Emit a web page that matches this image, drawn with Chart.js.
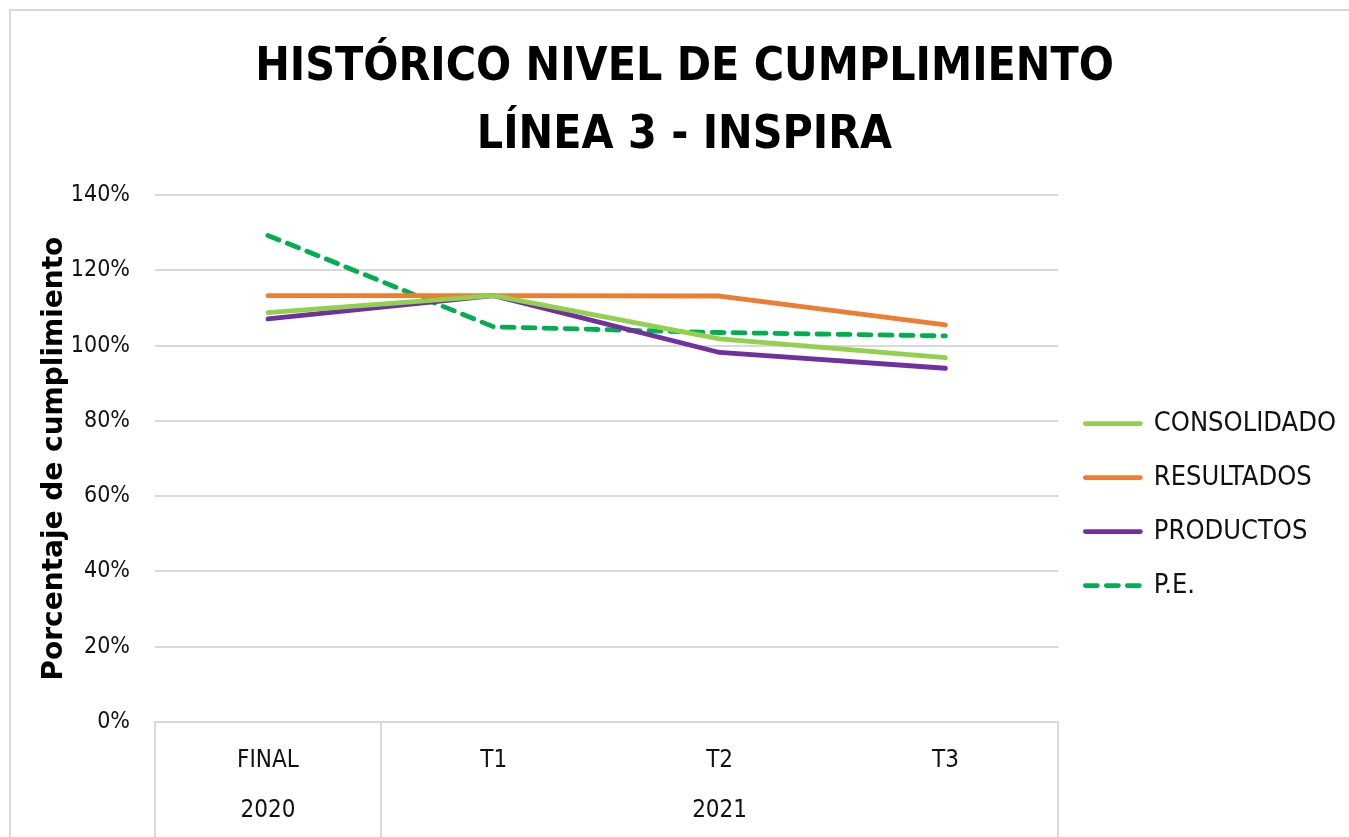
<!DOCTYPE html>
<html>
<head>
<meta charset="utf-8">
<script src="https://cdn.jsdelivr.net/npm/chart.js@4/dist/chart.umd.min.js"></script>
<style>
  html, body { margin: 0; padding: 0; background: #fff; overflow: hidden; }
  #frame { position: absolute; left: 9px; top: 9px; width: 1400px; height: 900px; border: 2px solid #d9d9d9; }
  #wrap { position: absolute; left: 0; top: 0; width: 1349px; height: 837px; }
</style>
</head>
<body>
<div id="frame"></div>
<div id="wrap"><canvas id="chart"></canvas></div>
<script>
// periodos (nivel 1) y años (nivel 2)
var periods = ["FINAL", "T1", "T2", "T3"];
var years = ["2020", "", "2021", ""];

var consolidado = [1.088, 1.133, 1.018, 0.968];
var resultados  = [1.133, 1.133, 1.132, 1.055];
var productos   = [1.071, 1.133, 0.982, 0.940];
var pe          = [1.293, 1.050, 1.035, 1.026];

var yTicks = [0, 0.2, 0.4, 0.6, 0.8, 1.0, 1.2, 1.4];

var labelFont = "'DejaVu Sans Condensed', 'Liberation Sans Narrow', 'DejaVu Sans', sans-serif";

function series(label, data, color, dashed) {
    return {
        label: label,
        data: data,
        borderColor: color,
        backgroundColor: color,
        borderWidth: 4.8,
        borderDash: dashed ? [12, 9] : [],
        borderCapStyle: 'round',
        borderJoinStyle: 'round',
        pointRadius: 0,
        pointHoverRadius: 0,
        tension: 0,
        fill: false
    };
}

var data = {
    labels: periods.map(function(p, i) { return [p, years[i]]; }),
    datasets: [
        series("CONSOLIDADO", consolidado, "#92d050", false),
        series("RESULTADOS", resultados, "#ed7d31", false),
        series("PRODUCTOS", productos, "#7030a0", false),
        series("P.E.", pe, "#00b050", true)
    ]
};

var options = {
    responsive: false,
    animation: false,
    layout: { padding: { left: 23, right: 3, top: 0, bottom: 0 } },
    plugins: {
        title: {
            display: true,
            text: ["HISTÓRICO NIVEL DE CUMPLIMIENTO", "LÍNEA 3 - INSPIRA"],
            color: "#000",
            font: { family: "'DejaVu Sans Condensed', 'DejaVu Sans', sans-serif", size: 46, weight: "bold condensed", lineHeight: 1.48 },
            padding: { top: 34, bottom: 25 }
        },
        legend: {
            position: "right",
            align: "center",
            title: { display: true, text: " ", padding: { top: 171, bottom: 0 }, font: { size: 1 } },
            labels: {
                usePointStyle: true,
                pointStyle: "line",
                pointStyleWidth: 55,
                boxHeight: 28,
                padding: 27,
                color: "#111",
                font: { family: labelFont, size: 27, weight: "condensed" },
                generateLabels: function(chart) {
                    return chart.data.datasets.map(function(ds, i) {
                        return {
                            text: ds.label,
                            datasetIndex: i,
                            fillStyle: ds.borderColor,
                            strokeStyle: ds.borderColor,
                            fontColor: "#111",
                            lineWidth: 4.8,
                            lineDash: ds.borderDash,
                            lineCap: "round",
                            pointStyle: "line",
                            hidden: false
                        };
                    });
                }
            }
        },
        tooltip: { enabled: false }
    },
    scales: {
        x: {
            offset: true,
            border: { display: true, color: "#d9d9d9", width: 2 },
            grid: {
                offset: true,
                drawOnChartArea: false,
                drawTicks: true,
                tickLength: 115,
                lineWidth: 2,
                // only year-group edges get a separator
                color: function(ctx) {
                    return (ctx.index === 2 || ctx.index === 3) ? "rgba(0,0,0,0)" : "#d9d9d9";
                }
            },
            ticks: {
                color: "#111",
                padding: -101,
                maxRotation: 0,
                autoSkip: false,
                font: { family: labelFont, size: 24, weight: "condensed", lineHeight: 2.08 }
            },
            afterFit: function(scale) { scale.height = 115; }
        },
        y: {
            min: 0,
            max: 1.4,
            afterBuildTicks: function(scale) {
                scale.ticks = yTicks.map(function(v) { return { value: v }; });
            },
            border: { display: false },
            grid: { color: "#d9d9d9", lineWidth: 2, drawTicks: false },
            ticks: {
                color: "#111",
                padding: 25,
                font: { family: labelFont, size: 23, weight: "condensed" },
                callback: function(v) { return Math.round(v * 100) + "%"; }
            },
            title: {
                display: true,
                text: "Porcentaje de cumplimiento",
                color: "#000",
                font: { family: "'DejaVu Sans', sans-serif", size: 28, weight: "bold" },
                padding: { top: 15, bottom: 0 }
            },
            afterFit: function(scale) { scale.width = 132; }
        }
    }
};

var canvas = document.getElementById("chart");
canvas.width = 1349;
canvas.height = 837;
var chart = new Chart(canvas.getContext("2d"), { type: "line", data: data, options: options });
console.log(JSON.stringify(chart.chartArea));
</script>
</body>
</html>
